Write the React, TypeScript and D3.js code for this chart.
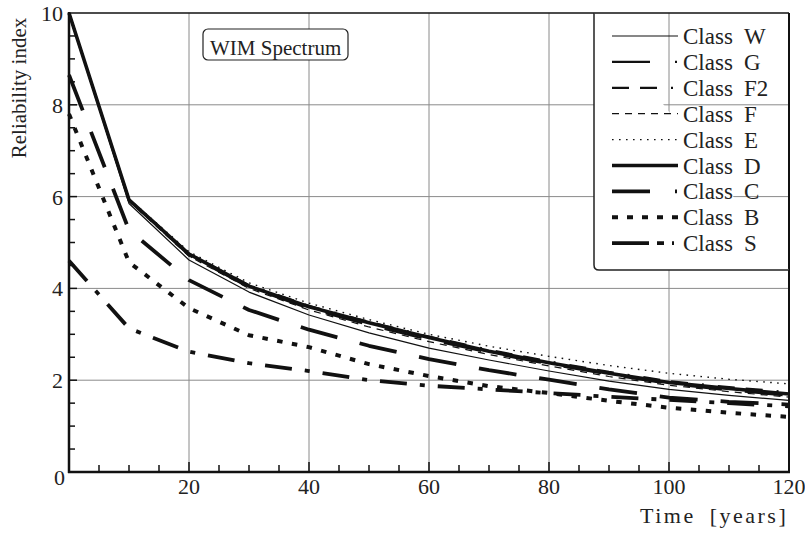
import React from "react";
import * as d3 from "d3";

const years = [0, 10, 20, 30, 40, 50, 60, 70, 80, 90, 100, 110, 120];
const classW = [10, 5.85, 4.62, 3.92, 3.42, 3.03, 2.7, 2.44, 2.2, 1.98, 1.8, 1.67, 1.56];
const classG = [10, 5.92, 4.72, 4.02, 3.56, 3.2, 2.88, 2.6, 2.35, 2.12, 1.92, 1.78, 1.66];
const classF2 = [10, 5.94, 4.76, 4.07, 3.62, 3.27, 2.95, 2.66, 2.41, 2.18, 1.98, 1.85, 1.74];
const classF = [10, 5.9, 4.7, 4.0, 3.53, 3.16, 2.84, 2.56, 2.31, 2.08, 1.89, 1.75, 1.63];
const classE = [10, 5.95, 4.8, 4.12, 3.68, 3.32, 3.0, 2.74, 2.52, 2.32, 2.15, 2.02, 1.92];
const classD = [10, 5.93, 4.75, 4.05, 3.6, 3.25, 2.93, 2.63, 2.38, 2.15, 1.95, 1.82, 1.7];
const classC = [8.65, 5.27, 4.18, 3.53, 3.1, 2.75, 2.46, 2.22, 2.01, 1.8, 1.62, 1.53, 1.47];
const classB = [7.8, 4.57, 3.57, 2.98, 2.72, 2.35, 2.09, 1.87, 1.72, 1.55, 1.4, 1.29, 1.2];
const classS = [4.6, 3.13, 2.62, 2.37, 2.2, 2.0, 1.88, 1.8, 1.72, 1.64, 1.57, 1.5, 1.43];

const classNames = ["W", "G", "F2", "F", "E", "D", "C", "B", "S"];
const seriesValues = [classW, classG, classF2, classF, classE, classD, classC, classB, classS];

const xTicks = [20, 40, 60, 80, 100, 120];
const yTicks = [0, 2, 4, 6, 8, 10];

const styles: { w: number; dash: string | null; legendDash: string | null }[] = [
  { w: 1.2, dash: null, legendDash: null },
  { w: 2.2, dash: "38 23", legendDash: "38 25 2 30" },
  { w: 2.2, dash: "17 11 17 14 2 14", legendDash: "17 11 17 14 2 14" },
  { w: 1.2, dash: "7 6", legendDash: "7 6" },
  { w: 1.4, dash: "1.6 5.4", legendDash: "1.6 5.4" },
  { w: 3.6, dash: null, legendDash: null },
  { w: 3.8, dash: "38 23", legendDash: "38 25 2 30" },
  { w: 4, dash: "5.5 9.5", legendDash: "6 9" },
  { w: 3.8, dash: "27 13 5 13", legendDash: "37 8 7 8 2 20" },
];

const FONT = "'Liberation Serif', 'Times New Roman', serif";

export default function App() {
  const x = d3.scaleLinear().domain([0, 120]).range([69, 789]);
  const y = d3.scaleLinear().domain([0, 10]).range([472, 13]);
  const line = d3
    .line<number>()
    .x((_, i) => x(years[i]))
    .y((d) => y(d));

  const xMinor = d3.range(5, 120, 5);
  const yMinor = d3.range(0.5, 10, 0.5);

  const legX = 594;
  const legBottom = 270;
  const rowY = (i: number) => 36 + i * 25.9;

  return (
    <svg
      width={805}
      height={533}
      style={{ position: "absolute", left: 0, top: 0, background: "#fff" }}
      fontFamily={FONT}
    >
      {/* grid */}
      {xTicks.slice(0, -1).map((t) => (
        <line key={"gx" + t} x1={x(t)} x2={x(t)} y1={y(0)} y2={y(10)} stroke="#8a8a8a" strokeWidth={1} />
      ))}
      {yTicks.slice(1, -1).map((t) => (
        <line key={"gy" + t} x1={x(0)} x2={x(120)} y1={y(t)} y2={y(t)} stroke="#8a8a8a" strokeWidth={1} />
      ))}

      {/* series */}
      {seriesValues.map((vals, i) => (
        <path
          key={"s" + i}
          d={line(vals) || ""}
          fill="none"
          stroke="#111"
          strokeWidth={styles[i].w}
          strokeDasharray={styles[i].dash || undefined}
          strokeLinejoin="round"
        />
      ))}

      {/* frame */}
      <line x1={x(0)} x2={x(120)} y1={y(10)} y2={y(10)} stroke="#111" strokeWidth={1.5} />
      <line x1={x(120)} x2={x(120)} y1={y(10)} y2={y(0)} stroke="#111" strokeWidth={2} />
      <line x1={x(0)} x2={x(0)} y1={y(10) - 1} y2={y(0) + 1} stroke="#111" strokeWidth={2.5} />
      <line x1={x(0) - 1} x2={x(120) + 1} y1={y(0)} y2={y(0)} stroke="#111" strokeWidth={2.5} />

      {/* ticks */}
      {xMinor.map((t) => (
        <line key={"xm" + t} x1={x(t)} x2={x(t)} y1={y(0)} y2={y(0) - (t % 20 === 0 ? 10 : 7)} stroke="#111" strokeWidth={1.5} />
      ))}
      {yMinor.map((t) => (
        <line key={"ym" + t} x1={x(0)} x2={x(0) + (t % 2 === 0 ? 8 : 6)} y1={y(t)} y2={y(t)} stroke="#111" strokeWidth={1.5} />
      ))}

      {/* tick labels */}
      {yTicks.map((t) => (
        <text key={"yl" + t} x={t === 0 ? 65 : 63} y={y(t) + (t === 0 ? 13 : 8)} fontSize={22} textAnchor="end" fill="#222">
          {t}
        </text>
      ))}
      {xTicks.map((t) => (
        <text key={"xl" + t} x={x(t)} y={494} fontSize={22} textAnchor="middle" fill="#222">
          {t}
        </text>
      ))}

      {/* axis titles */}
      <text x={640} y={523} fontSize={22} fill="#222" letterSpacing={2.5} wordSpacing={6}>
        Time [years]
      </text>
      <text
        transform={`translate(26, 88) rotate(-90)`}
        fontSize={21}
        textAnchor="middle"
        fill="#222"
      >
        Reliability index
      </text>

      {/* WIM box */}
      <rect x={203} y={29} width={145} height={31} rx={5} fill="#fff" stroke="#222" strokeWidth={1.2} />
      <text x={210} y={55} fontSize={21} fill="#222">
        WIM Spectrum
      </text>

      {/* legend */}
      <path
        d={`M${legX},${y(10)} L${legX},${legBottom - 5} Q${legX},${legBottom} ${legX + 5},${legBottom} L${x(120)},${legBottom}`}
        fill="#fff"
        stroke="#222"
        strokeWidth={1.5}
      />
      {classNames.map((c, i) => (
        <g key={"lg" + c}>
          <line
            x1={612}
            x2={678}
            y1={rowY(i)}
            y2={rowY(i)}
            stroke="#111"
            strokeWidth={styles[i].w}
            strokeDasharray={styles[i].legendDash || undefined}
          />
          <text x={683} y={rowY(i) + 8} fontSize={23} fill="#222">
            Class
          </text>
          <text x={744} y={rowY(i) + 8} fontSize={23} fill="#222">
            {c}
          </text>
        </g>
      ))}
    </svg>
  );
}
